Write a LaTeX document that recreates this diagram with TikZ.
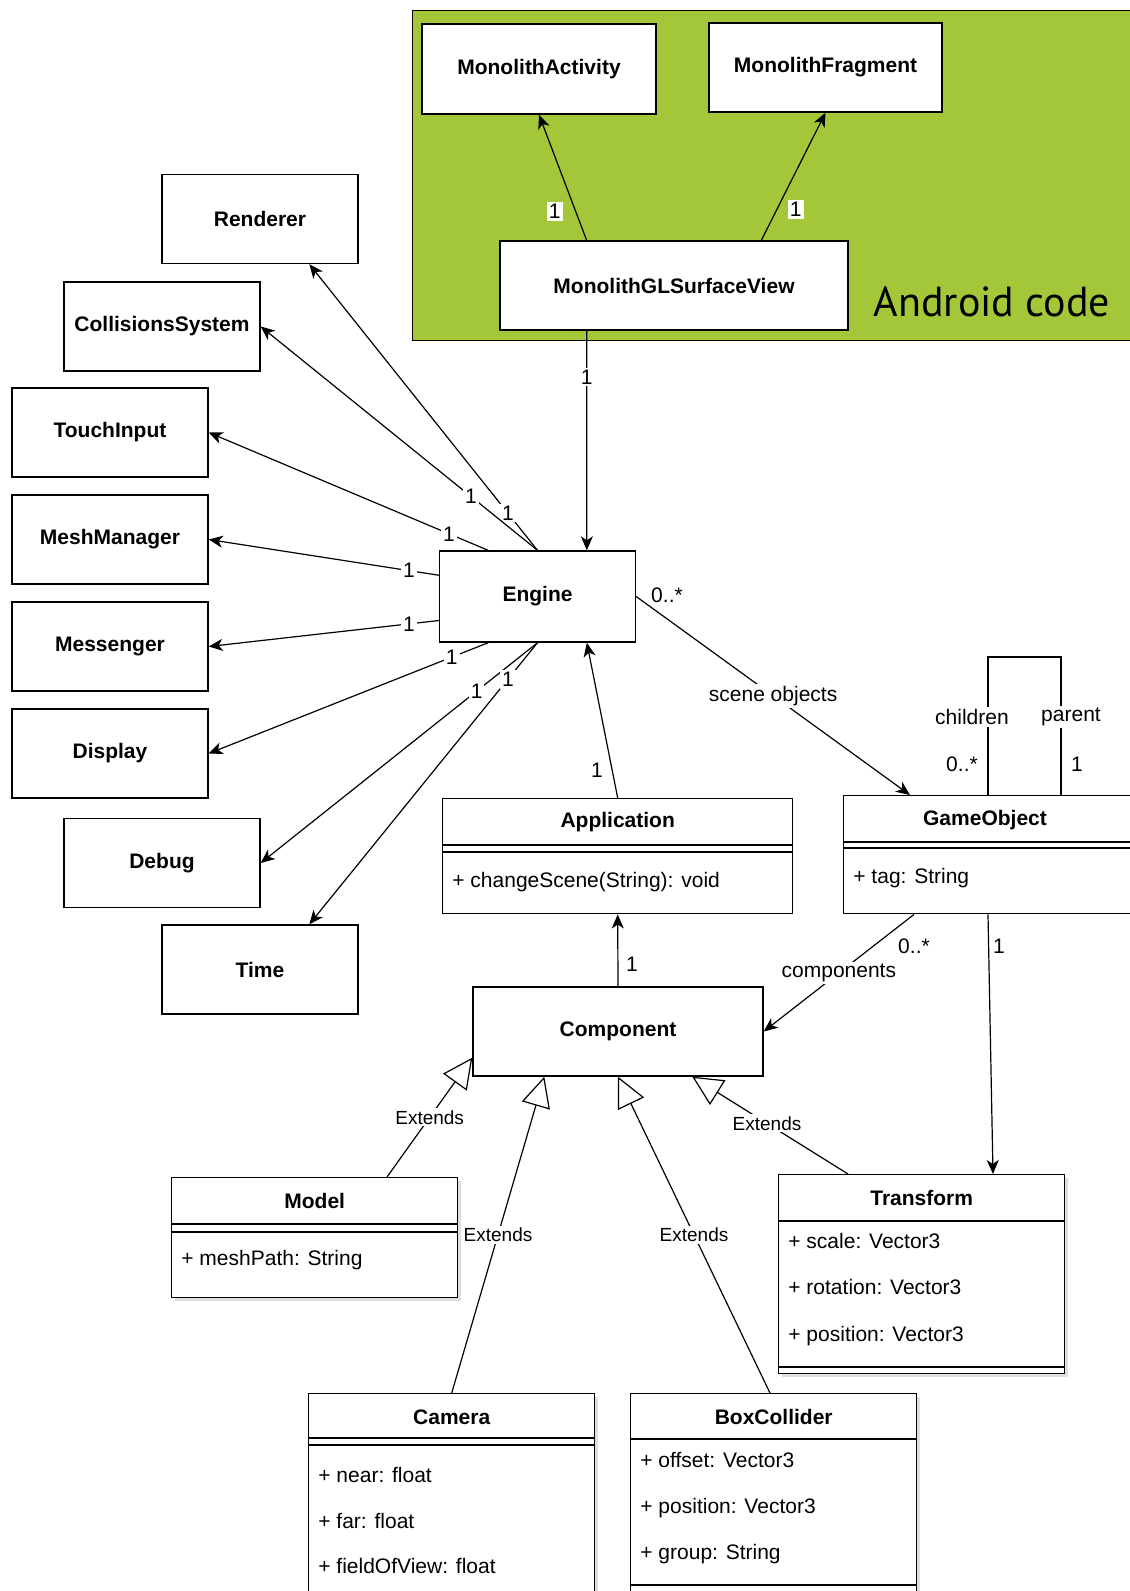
\documentclass[tikz,border=0pt]{standalone}
\usepackage{fontspec}
\setmainfont{Liberation Sans}
\newfontfamily\droidfont{PT Sans}
\usetikzlibrary{arrows.meta,positioning,calc,shadows}
\definecolor{droidgreen}{RGB}{164,198,57}

\tikzset{
  box/.style={draw, fill=white, line width=0.7pt, minimum width=98pt,
    minimum height=44.5pt, inner sep=2pt,
    font=\bfseries\fontsize{10.5}{12}\selectfont},
  cls/.style={draw, fill=white, line width=0.7pt, anchor=north west,
    minimum width=143pt, inner sep=0pt},
  shade/.style={drop shadow={shadow xshift=1.5pt, shadow yshift=-1.5pt,
    opacity=0.25}},
  head/.style={font=\bfseries\fontsize{10.5}{12}\selectfont, inner sep=0pt},
  field/.style={anchor=west, inner sep=0pt, text height=7.6pt,
    text depth=2.2pt, font=\fontsize{10.5}{12}\selectfont},
  lab/.style={inner sep=1pt, font=\fontsize{10.5}{12}\selectfont},
  mult/.style={lab, fill=white},
  extlbl/.style={fill=white, inner sep=1pt, font=\fontsize{9.5}{11}\selectfont},
  arr/.style={line width=0.6pt, -{Stealth[length=7pt, width=6pt, inset=2pt]}},
  ext/.style={line width=0.6pt,
    -{Triangle[open, length=15pt, width=14.5pt, fill=white]}},
}
\newcommand{\classline}[2]{\draw[line width=0.7pt]
  ($(#1.north west)+(0,#2)$) -- ($(#1.north east)+(0,#2)$);}

\begin{document}
\begin{tikzpicture}[x=0.5pt, y=-0.5pt]
\useasboundingbox (0,0) rectangle (1130,1591);
\clip (0,0) rectangle (1130,1591);
% android side
\node[draw, fill=droidgreen, line width=0.7pt, anchor=north west,
  minimum width=370pt, minimum height=165pt] (android) at (412,10) {};
\node[anchor=base, font=\droidfont\fontsize{21}{24}\selectfont] (droid)
  at (992,316) {Android code};
\node[box, minimum width=117pt, minimum height=45pt] (act) at (539,69)
  {MonolithActivity};
\node[box, minimum width=116.5pt] (frag) at (825.5,67.5) {MonolithFragment};
\node[box, minimum width=174pt] (surf) at (674,285.5) {MonolithGLSurfaceView};
\draw[arr] ($(surf.north west)!.25!(surf.north east)$)
  -- node[mult, pos=.23, xshift=-10.5pt] (one1) {1} (act.south);
\draw[arr] ($(surf.north west)!.75!(surf.north east)$)
  -- node[mult, pos=.24, xshift=9.5pt] (one2) {1} (frag.south);

% engine and its services
\node[box, minimum height=45.5pt] (eng) at (537.5,596.5) {Engine};
\draw[arr] ($(surf.south west)!.25!(surf.south east)$)
  -- node[mult, pos=.21] (one3) {1} ($(eng.north west)!.75!(eng.north east)$);
\foreach \name/\txt/\x/\y in {rend/Renderer/260/219,
    coll/CollisionsSystem/162/326.5, tin/TouchInput/110/432.5,
    mesh/MeshManager/110/539.5, msg/Messenger/110/646.5,
    disp/Display/110/753.5, dbg/Debug/162/863, time/Time/260/969.5}
  \node[box] (\name) at (\x,\y) {\txt};
\coordinate (engNW) at ($(eng.north west)!.25!(eng.north east)$);
\coordinate (engWN) at ($(eng.north west)!.27!(eng.south west)$);
\coordinate (engWS) at ($(eng.north west)!.76!(eng.south west)$);
\coordinate (engSW) at ($(eng.south west)!.25!(eng.south east)$);
\coordinate (rendS) at ($(rend.south west)!.75!(rend.south east)$);
\coordinate (timeN) at ($(time.north west)!.75!(time.north east)$);
\foreach \a/\b/\p [count=\i] in {eng.north/rendS/.13, eng.north/coll.east/.24,
    engNW/tin.east/.14, engWN/mesh.east/.13, engWS/msg.east/.13,
    engSW/disp.east/.13, eng.south/dbg.east/.22, eng.south/timeN/.13}
  \draw[arr] (\a) -- node[mult, pos=\p] (link\i) {1} (\b);

% application
\node[cls, minimum width=175pt, minimum height=57.5pt] (app) at (442,798) {};
\node[head] (appH) at ($(app.north)+(0,24)$) {Application};
\classline{app}{47}\classline{app}{54}
\node[field] (appF) at ($(app.north west)+(10,84)$) {+ changeScene(String): void};
\draw[arr] (app.north) -- ($(eng.south west)!.75!(eng.south east)$);
\node[lab] (one4) at (597,770) {1};

% game object
\node[cls, minimum width=144pt, minimum height=59pt] (go) at (843,795) {};
\node[head] (goH) at ($(go.north west)+(142,25)$) {GameObject};
\classline{go}{47}\classline{go}{53}
\node[field] (goF) at ($(go.north west)+(10,83)$) {+ tag: String};
\draw[arr] (eng.east) -- node[mult, pos=.5] (scn) {scene objects}
  ($(go.north west)+(67,0)$);
\node[lab] (many1) at (667,595) {0..*};
\draw[line width=0.6pt] ($(go.north west)+(145,0)$) -- ++(0,-138)
  -| ($(go.north west)+(218,0)$);
\node[mult] (chld) at (972,717) {children};
\node[mult] (prnt) at (1071,717) {parent};
\node[lab] (many2) at (962,764) {0..*};
\node[lab] (one5) at (1077,764) {1};

% component
\node[box, minimum width=145pt] (comp) at (618,1031.5) {Component};
\draw[arr] (comp.north) -- (app.south);
\node[lab] (one6) at (632,964) {1};
\draw[arr] ($(go.south west)+(71,0)$) -- node[mult, pos=.5] (cmps) {components}
  (comp.east);
\node[lab] (many3) at (914,946) {0..*};

% subclasses
\node[cls, shade, minimum height=60pt] (model) at (171,1177) {};
\node[head] (modelH) at ($(model.north)+(0,24)$) {Model};
\classline{model}{47}\classline{model}{55}
\node[field] (modelF) at ($(model.north west)+(10,83)$) {+ meshPath: String};

\node[cls, shade, minimum height=99.5pt] (tr) at (778,1174) {};
\node[head] (trH) at ($(tr.north)+(0,24)$) {Transform};
\classline{tr}{47}\classline{tr}{193}
\node[field] (trF1) at ($(tr.north west)+(10,69)$) {+ scale: Vector3};
\node[field] (trF2) at ($(tr.north west)+(10,115)$) {+ rotation: Vector3};
\node[field] (trF3) at ($(tr.north west)+(10,162)$) {+ position: Vector3};
\draw[arr] ($(go.south west)+(145,0)$) -- ($(tr.north west)+(215,0)$);
\node[lab] (one7) at (999,946) {1};

\node[cls, shade, minimum height=110pt] (cam) at (308,1393) {};
\node[head] (camH) at ($(cam.north)+(0,24)$) {Camera};
\classline{cam}{45}\classline{cam}{52}
\node[field] (camF1) at ($(cam.north west)+(10,84)$) {+ near: float};
\node[field] (camF2) at ($(cam.north west)+(10,130)$) {+ far: float};
\node[field] (camF3) at ($(cam.north west)+(10,175)$) {+ fieldOfView: float};

\node[cls, shade, minimum height=105pt] (bc) at (630,1393) {};
\node[head] (bcH) at ($(bc.north)+(0,24)$) {BoxCollider};
\classline{bc}{46}\classline{bc}{192}
\node[field] (bcF1) at ($(bc.north west)+(10,69)$) {+ offset: Vector3};
\node[field] (bcF2) at ($(bc.north west)+(10,115)$) {+ position: Vector3};
\node[field] (bcF3) at ($(bc.north west)+(10,161)$) {+ group: String};

% generalisations
\draw[ext] ($(model.north west)+(216,0)$) -- node[extlbl, pos=.5] (ex1) {Extends}
  ($(comp.south west)+(0,-19)$);
\draw[ext] (cam.north) -- node[extlbl, pos=.5] (ex2) {Extends}
  ($(comp.south west)+(72,0)$);
\draw[ext] ($(bc.north west)+(140,0)$) -- node[extlbl, pos=.5] (ex3) {Extends}
  (comp.south);
\draw[ext] ($(tr.north west)+(70,0)$) -- node[extlbl, pos=.52] (ex4) {Extends}
  ($(comp.south west)+(220,0)$);
\end{tikzpicture}
\end{document}
